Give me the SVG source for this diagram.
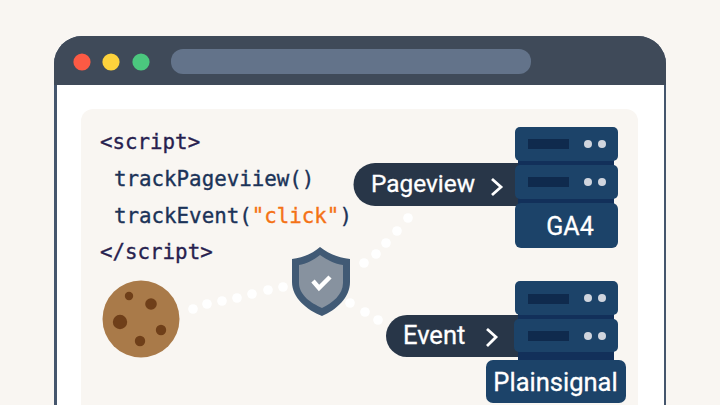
<svg xmlns="http://www.w3.org/2000/svg" width="720" height="405" viewBox="0 0 720 405">
<style>
.code{font-family:"DejaVu Sans Mono","Liberation Mono",monospace;font-size:20.8px;stroke-width:.35px}
.lbl{font-family:Roboto,"Liberation Sans",sans-serif;fill:#fff;font-weight:400;stroke:#fff;stroke-width:.3px}
.srv{fill:#1c4369}
.bar{fill:#0f2a4d}
.led{fill:#d0d5de}
.rail{fill:#12305a}
.pill{fill:#283648}
.dot{fill:#fff}
</style>
<rect width="720" height="405" fill="#f9f6f2"/>
<g id="window">
<path d="M54 405V64a28 28 0 0 1 28-28H638a28 28 0 0 1 28 28V405Z" fill="#45566d"/>
<path d="M57 85H664V405H57Z" fill="#fff"/>
<path d="M54 85V64a28 28 0 0 1 28-28H638a28 28 0 0 1 28 28V85Z" fill="#3f4a59"/>
<circle cx="82" cy="62" r="8.600" fill="#fc5a44"/>
<circle cx="111" cy="62" r="8.600" fill="#fdd23c"/>
<circle cx="141" cy="62" r="8.600" fill="#4bc77e"/>
<rect x="171" y="49" width="360" height="25" rx="12" fill="#63738a"/>
<path d="M81 405V121a12 12 0 0 1 12-12H626a12 12 0 0 1 12 12V405Z" fill="#f9f6f2"/>
</g>
<g id="code">
<text class="code" x="100" y="149" fill="#281f4f" stroke="#281f4f">&lt;script&gt;</text>
<text class="code" x="114" y="186" fill="#1b3358" stroke="#1b3358">trackPageviiew()</text>
<text class="code" x="114" y="223" fill="#1b3358" stroke="#1b3358">trackEvent(<tspan fill="#f47216" stroke="#f47216">"click"</tspan>)</text>
<text class="code" x="100" y="259" fill="#281f4f" stroke="#281f4f">&lt;/script&gt;</text>
</g>
<g id="connectors">
<g class="dot">
<circle cx="193" cy="309" r="4.800"/><circle cx="207" cy="304" r="4.800"/><circle cx="222" cy="301" r="4.800"/><circle cx="237" cy="298" r="4.800"/><circle cx="252" cy="294" r="4.800"/><circle cx="268" cy="290" r="4.800"/><circle cx="283" cy="287" r="4.800"/>
<circle cx="364" cy="263" r="4.800"/><circle cx="376" cy="254" r="4.800"/><circle cx="386" cy="243" r="4.800"/><circle cx="397" cy="231" r="4.800"/><circle cx="408" cy="218" r="4.800"/>
<circle cx="350" cy="303" r="4.800"/><circle cx="365" cy="312" r="4.800"/><circle cx="378" cy="320" r="4.800"/>
</g>
</g>
<g id="cookie">
<circle cx="141" cy="319" r="38.500" fill="#a97a49"/>
<circle cx="129" cy="296" r="4.200" fill="#6f3f19"/><circle cx="151" cy="304" r="5.800" fill="#6f3f19"/><circle cx="120" cy="322" r="7.200" fill="#6f3f19"/><circle cx="161" cy="330" r="5.200" fill="#6f3f19"/><circle cx="140" cy="341" r="5.200" fill="#6f3f19"/>
</g>
<g id="shield">
<path d="M320 247C329 254 339 258 350 259L350 282C350 298 336 310 322 316 307 310 292 298 292 282V259C302 258 312 254 320 247Z" fill="#415a75"/>
<path d="M320 255C327 260 335 264 343 265V283C343 295 332 303 322 308 311 303 299 295 299 283V265C306 264 314 260 320 255Z" fill="#87929f"/>
<path d="M313 281 319 288 330 277" fill="none" stroke="#fff" stroke-width="4.500"/>
</g>
<g id="pageview">
<path d="M375 163H520V206H375a21.500 21.500 0 0 1 0-43Z" class="pill"/>
<text class="lbl" x="371" y="192" font-size="24.400">Pageview</text>
<path d="M492 179 501 187 492 195" fill="none" stroke="#fff" stroke-width="2.800"/>
</g>
<g id="ga4">
<rect x="518" y="155" width="96" height="50" class="rail"/>
<rect x="515" y="127" width="103" height="34" rx="5" class="srv"/>
<rect x="528" y="139" width="41" height="10" class="bar"/><circle cx="588" cy="144" r="4" class="led"/><circle cx="602" cy="144" r="4" class="led"/>
<rect x="515" y="165" width="103" height="34" rx="5" class="srv"/>
<rect x="528" y="177" width="41" height="10" class="bar"/><circle cx="588" cy="182" r="4" class="led"/><circle cx="602" cy="182" r="4" class="led"/>
<rect x="515" y="203" width="103" height="45" rx="6" class="srv"/>
<text class="lbl" x="570" y="235" font-size="25" text-anchor="middle">GA4</text>
</g>
<g id="event">
<path d="M407 315H520V357H407a21 21 0 0 1 0-42Z" class="pill"/>
<text class="lbl" x="403" y="344" font-size="25.500">Event</text>
<path d="M487 329 496 337 487 346" fill="none" stroke="#fff" stroke-width="2.800"/>
</g>
<g id="plainsignal">
<rect x="518" y="310" width="96" height="55" class="rail"/>
<rect x="515" y="281" width="103" height="34" rx="5" class="srv"/>
<rect x="528" y="294" width="41" height="10" class="bar"/><circle cx="588" cy="298" r="4" class="led"/><circle cx="602" cy="298" r="4" class="led"/>
<rect x="514" y="319" width="104" height="33" rx="5" class="srv"/>
<rect x="528" y="331" width="41" height="10" class="bar"/><circle cx="588" cy="336" r="4" class="led"/><circle cx="602" cy="336" r="4" class="led"/>
<rect x="486" y="360" width="140" height="43" rx="7" class="srv"/>
<text class="lbl" x="555.500" y="391" font-size="25.500" text-anchor="middle">Plainsignal</text>
</g>
</svg>
